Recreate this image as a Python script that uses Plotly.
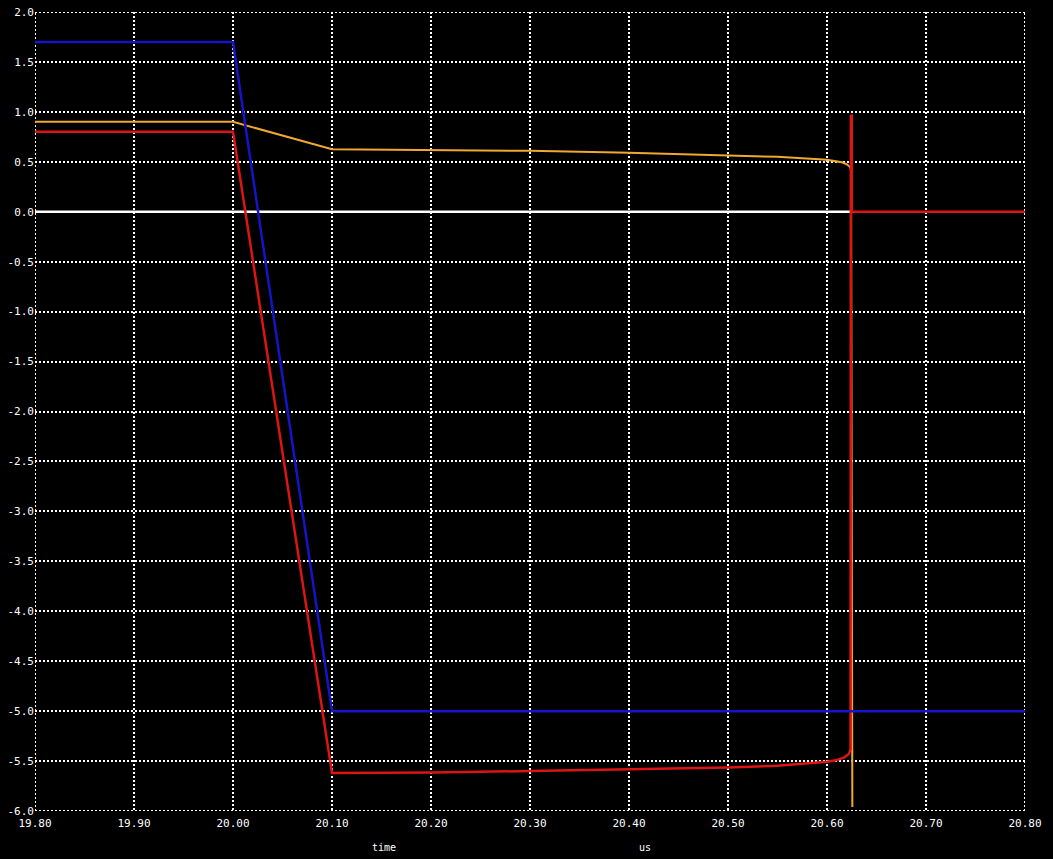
import plotly.graph_objects as go

# ---- data ----
white_t = [19.80, 20.6245]
white_v = [0.0, 0.0]

blue_t = [19.80, 20.00, 20.10, 20.80]
blue_v = [1.7, 1.7, -5.0, -5.0]

orange_t = [19.80, 20.00, 20.10, 20.20, 20.30, 20.40, 20.50, 20.55, 20.60,
            20.61, 20.615, 20.62, 20.623, 20.6243, 20.6254, 20.6256]
orange_v = [0.9, 0.9, 0.627, 0.62, 0.61, 0.59, 0.565, 0.55, 0.52,
            0.505, 0.495, 0.475, 0.45, 0.42, -4.7, -5.96]

red_t = [19.80, 20.00, 20.10, 20.20, 20.30, 20.40, 20.50, 20.55, 20.60,
         20.61, 20.618, 20.622, 20.6238, 20.6241, 20.6250, 20.6251, 20.80]
red_v = [0.8, 0.8, -5.62, -5.615, -5.60, -5.585, -5.565, -5.547, -5.507,
         -5.49, -5.46, -5.43, -5.38, 0.96, 0.96, 0.0, 0.0]

x_ticks = [19.80, 19.90, 20.00, 20.10, 20.20, 20.30, 20.40, 20.50, 20.60, 20.70, 20.80]
y_ticks = [2.0, 1.5, 1.0, 0.5, 0.0, -0.5, -1.0, -1.5, -2.0, -2.5, -3.0, -3.5,
           -4.0, -4.5, -5.0, -5.5, -6.0]

FONT = "DejaVu Sans Mono"
GRID = dict(color="#ffffff", width=2, dash="2px,2px")

fig = go.Figure()
fig.add_trace(go.Scatter(x=white_t, y=white_v, mode="lines",
                         line=dict(color="#ffffff", width=2.5), hoverinfo="skip"))
fig.add_trace(go.Scatter(x=orange_t, y=orange_v, mode="lines",
                         line=dict(color="#f0a830", width=2), hoverinfo="skip"))
fig.add_trace(go.Scatter(x=red_t, y=red_v, mode="lines",
                         line=dict(color="#dc1414", width=2.5), hoverinfo="skip"))
fig.add_trace(go.Scatter(x=blue_t, y=blue_v, mode="lines",
                         line=dict(color="#1414c8", width=2.5), hoverinfo="skip"))

# dotted grid lines on the edges of the plotting area
for xv in (x_ticks[0], x_ticks[-1]):
    fig.add_shape(type="line", xref="x", yref="paper", x0=xv, x1=xv, y0=0, y1=1,
                  line=GRID, layer="below")
for yv in (y_ticks[0], y_ticks[-1]):
    fig.add_shape(type="line", xref="paper", yref="y", x0=0, x1=1, y0=yv, y1=yv,
                  line=GRID, layer="below")

fig.update_layout(
    width=1053, height=859,
    margin=dict(l=35, r=28, t=12, b=48, autoexpand=False),
    paper_bgcolor="#000000", plot_bgcolor="#000000",
    showlegend=False,
    font=dict(family=FONT, size=11, color="#ffffff"),
    xaxis=dict(range=[19.80, 20.80], tickvals=x_ticks,
               ticktext=[f"{v:.2f}" for v in x_ticks],
               showgrid=True, gridcolor="#ffffff", gridwidth=2, griddash="2px,2px",
               zeroline=False, showline=False, ticks="", automargin=False,
               ticklabelstandoff=4,
               tickfont=dict(family=FONT, size=11, color="#ffffff")),
    yaxis=dict(range=[-6.0, 2.0], tickvals=y_ticks,
               ticktext=[f"{v:.1f}" for v in y_ticks],
               showgrid=True, gridcolor="#ffffff", gridwidth=2, griddash="2px,2px",
               zeroline=False, showline=False, ticks="", automargin=False,
               tickfont=dict(family=FONT, size=11, color="#ffffff")),
    annotations=[
        dict(text="time", xref="paper", yref="paper", x=0.3525, y=-0.046,
             showarrow=False, xanchor="center", yanchor="middle",
             font=dict(family=FONT, size=10, color="#ffffff")),
        dict(text="us", xref="paper", yref="paper", x=0.616, y=-0.046,
             showarrow=False, xanchor="center", yanchor="middle",
             font=dict(family=FONT, size=10, color="#ffffff")),
    ],
)

fig.write_html("out.html", config={"displayModeBar": False},
               post_script="document.body.style.margin='0';document.body.style.background='#000';")
